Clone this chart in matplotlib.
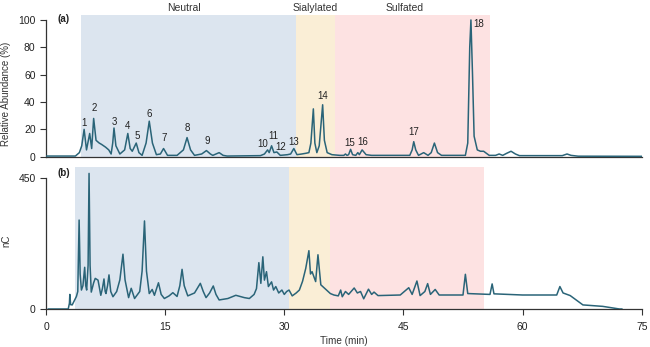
import matplotlib
matplotlib.use("Agg")
import matplotlib.pyplot as plt

plt.rcParams['font.family'] = ['Liberation Sans', 'DejaVu Sans']

# ---------------- data ----------------
# (a) MS trace: (time min, relative abundance %)
top_trace = [
    (0, 0.5), (3.7, 0.5), (4.2, 3), (4.5, 8), (4.8, 20), (5.1, 5), (5.5, 17), (5.75, 6),
    (6.0, 28), (6.3, 12), (6.7, 10), (7.0, 9), (7.5, 7), (7.9, 5), (8.2, 2), (8.4, 10),
    (8.56, 21), (8.8, 8), (9.3, 2), (9.9, 5), (10.3, 17), (10.6, 6), (10.86, 4), (11.36, 10),
    (11.7, 3), (12.1, 1), (12.6, 10), (13.0, 26), (13.4, 10), (13.9, 1.5), (14.4, 2), (14.8, 6),
    (15.3, 1), (16.5, 1), (17.3, 5), (17.76, 14), (18.2, 5), (18.7, 1), (19.6, 2), (20.2, 4.5),
    (20.7, 2), (21.0, 1), (21.4, 2), (21.8, 3), (22.3, 1), (22.8, 0.5), (27.0, 0.8), (27.5, 2),
    (27.9, 5), (28.1, 3), (28.4, 8), (28.7, 3), (29.06, 3.5), (29.5, 1), (30.4, 1.5), (30.8, 2),
    (31.2, 6), (31.6, 1.5), (32.2, 2), (32.7, 2.5), (33.1, 3), (33.35, 10), (33.66, 35),
    (33.85, 10), (34.1, 3), (34.4, 8), (34.83, 38), (35.05, 12), (35.4, 3), (36.0, 1.5),
    (37.0, 1), (37.5, 1), (37.7, 2), (37.9, 1), (38.1, 1.5), (38.35, 5.4), (38.6, 1.5),
    (39.0, 1), (39.26, 3), (39.45, 1.5), (39.8, 5), (40.3, 1.5), (41.0, 1), (45.8, 1),
    (46.1, 5), (46.3, 11), (46.55, 5), (46.9, 1), (47.55, 3), (48.1, 1), (48.5, 3), (48.9, 10),
    (49.3, 3), (49.8, 1), (52.8, 1), (53.1, 10), (53.35, 80), (53.5, 100), (53.7, 60),
    (53.9, 15), (54.3, 5), (54.7, 4), (55.1, 4), (55.8, 1), (56.6, 1), (57.05, 2), (57.5, 1),
    (58.0, 2.5), (58.55, 4), (59.1, 2), (59.6, 0.8), (65.0, 0.8), (65.6, 2), (66.1, 1),
    (67.0, 0.4), (75.0, 0.3),
]

# (b) PAD trace: (time min, nC)
bottom_trace = [
    (0.3, 0), (2.8, 0), (2.95, 20), (3.0, 50), (3.1, 15), (3.3, 14), (3.5, 25), (3.83, 43),
    (4.0, 60), (4.17, 305), (4.3, 120), (4.46, 65), (4.65, 80), (4.87, 143), (5.0, 80),
    (5.12, 65), (5.3, 150), (5.42, 465), (5.55, 150), (5.7, 58), (6.0, 90), (6.2, 105),
    (6.55, 99), (6.9, 47), (7.1, 70), (7.3, 103), (7.45, 60), (7.55, 53), (7.75, 80),
    (7.93, 117), (8.15, 60), (8.43, 42), (8.9, 60), (9.3, 100), (9.69, 188), (9.95, 100),
    (10.4, 39), (10.73, 71), (11.15, 36), (11.8, 60), (12.1, 130), (12.4, 302), (12.65, 130),
    (13.0, 53), (13.37, 67), (13.65, 47), (14.16, 90), (14.5, 50), (14.9, 36), (15.5, 45),
    (15.97, 56), (16.5, 43), (16.85, 80), (17.13, 136), (17.4, 80), (17.85, 45), (18.7, 55),
    (19.43, 88), (19.8, 60), (20.15, 39), (20.6, 55), (21.06, 79), (21.4, 50), (21.8, 31),
    (22.9, 36), (23.9, 47), (24.97, 39), (25.6, 36), (26.2, 50), (26.5, 70), (26.8, 159),
    (27.05, 88), (27.3, 179), (27.5, 99), (27.76, 128), (28.0, 77), (28.4, 93), (28.65, 65),
    (28.93, 77), (29.3, 55), (29.7, 65), (30.0, 50), (30.3, 60), (30.6, 65), (31.0, 45),
    (31.5, 55), (31.9, 65), (32.3, 95), (32.7, 139), (33.1, 200), (33.3, 120), (33.5, 128),
    (33.95, 94), (34.24, 186), (34.6, 83), (35.2, 68), (35.8, 53), (36.25, 48), (36.8, 45),
    (37.1, 65), (37.3, 42), (37.7, 60), (38.1, 50), (38.8, 72), (39.2, 55), (39.6, 60),
    (40.0, 35), (40.6, 68), (41.0, 50), (41.3, 58), (41.8, 46), (44.6, 48), (45.67, 73),
    (46.1, 50), (46.7, 96), (47.1, 46), (47.7, 60), (48.05, 87), (48.4, 50), (49.0, 67),
    (49.5, 48), (52.5, 48), (52.8, 119), (53.1, 53), (55.9, 50), (56.17, 86), (56.4, 52),
    (60.0, 48), (64.3, 48), (64.7, 77), (65.1, 55), (66.0, 46), (66.8, 30), (67.6, 14),
    (70.1, 9), (72.2, 0), (72.5, 0),
]

# peak labels in panel (a): (label, time, label height)
peak_labels = [
    ("1", 4.8, 24.9), ("2", 6.05, 35.4), ("3", 8.56, 25.6), ("4", 10.3, 22.7),
    ("5", 11.45, 15.4), ("6", 13.0, 31.2), ("7", 14.84, 13.5), ("8", 17.85, 21.2),
    ("9", 20.27, 11.5), ("10", 27.34, 9.3), ("11", 28.64, 15.4), ("12", 29.56, 7.3),
    ("13", 31.15, 11.0), ("14", 34.8, 44.6), ("15", 38.26, 10.2), ("16", 39.9, 11.0),
    ("17", 46.3, 17.8),
]
label18 = ("18", 53.75, 97.0)

# shaded classes: (name, start, end) per panel
class_names = ["Neutral", "Sialylated", "Sulfated"]
class_colors = ["#dce5ef", "#faeed6", "#fde2e2"]
top_regions = [(4.46, 31.5), (31.5, 36.4), (36.4, 55.9)]
bottom_regions = [(3.6, 30.6), (30.6, 35.7), (35.7, 55.2)]
class_label_x = [17.4, 33.9, 45.2]

top_yticks = [0, 20, 40, 60, 80, 100]
bottom_yticks = [0, 450]
xticks = [0, 15, 30, 45, 60, 75]

# ---------------- figure ----------------
line_c = "#2a6478"
axis_c = "#333333"
fig = plt.figure(figsize=(6.5, 3.47), dpi=100)

W, H = 650.0, 347.0
xl, xr = 46.0, 641.7
ax1 = fig.add_axes([xl / W, (H - 158.1) / H, (xr - xl) / W, (158.1 - 15.2) / H])
ax2 = fig.add_axes([xl / W, (H - 309.0) / H, (xr - xl) / W, (309.0 - 166.7) / H])

top_ymax = 103.5
bot_ymax = 488

for ax, regions, ymax in ((ax1, top_regions, top_ymax), (ax2, bottom_regions, bot_ymax)):
    for (x0, x1), c in zip(regions, class_colors):
        ax.fill_between([x0, x1], 0, ymax, color=c, lw=0, zorder=0)

t1 = [p[0] for p in top_trace]
v1 = [p[1] for p in top_trace]
t2 = [p[0] for p in bottom_trace]
v2 = [p[1] for p in bottom_trace]
ax1.plot(t1, v1, color=line_c, lw=1.1, zorder=3, solid_joinstyle='round')
ax2.plot(t2, v2, color=line_c, lw=1.1, zorder=3, solid_joinstyle='round')

ax1.set_xlim(0, 75)
ax1.set_ylim(-1, top_ymax)
ax2.set_xlim(0, 75)
ax2.set_ylim(0, bot_ymax)

for ax in (ax1, ax2):
    for s in ("top", "right"):
        ax.spines[s].set_visible(False)
    for s in ("left", "bottom"):
        ax.spines[s].set_color(axis_c)
        ax.spines[s].set_linewidth(0.9)
    ax.tick_params(colors=axis_c, labelcolor="#222222", labelsize=7.5, width=0.8, length=4)

ax1.spines["left"].set_bounds(0, 100)
ax1.spines["bottom"].set_position(("data", 0))
ax1.set_yticks(top_yticks)
ax1.set_xticks([])
ax2.spines["left"].set_bounds(0, 450)
ax2.set_yticks(bottom_yticks)
ax2.set_xticks(xticks)
ax2.tick_params(axis="x", pad=5)

ax1.set_ylabel("Relative Abundance (%)", fontsize=7, color="#333333", labelpad=4)
ax2.set_ylabel("nC", fontsize=7, color="#333333", labelpad=10)
ax1.yaxis.set_label_coords(-0.058, 0.45)
ax2.yaxis.set_label_coords(-0.058, 0.48)
ax2.set_xlabel("Time (min)", fontsize=7.2, color="#333333", labelpad=3)

ax1.text(1.5, 101, "(a)", fontsize=7, fontweight="bold", ha="left", va="center", color="#222222")
ax2.text(1.5, 465, "(b)", fontsize=7, fontweight="bold", ha="left", va="center", color="#222222")

for name, x in zip(class_names, class_label_x):
    ax1.text(x, 108.5, name, fontsize=7.5, ha="center", va="center", color="#333333", clip_on=False)

for lab, x, y in peak_labels:
    ax1.text(x, y, lab, fontsize=7, ha="center", va="center", color="#222222", zorder=4)
ax1.text(label18[1], label18[2], label18[0], fontsize=7, ha="left", va="center", color="#222222", zorder=4)

fig.savefig("out.png", dpi=100)
